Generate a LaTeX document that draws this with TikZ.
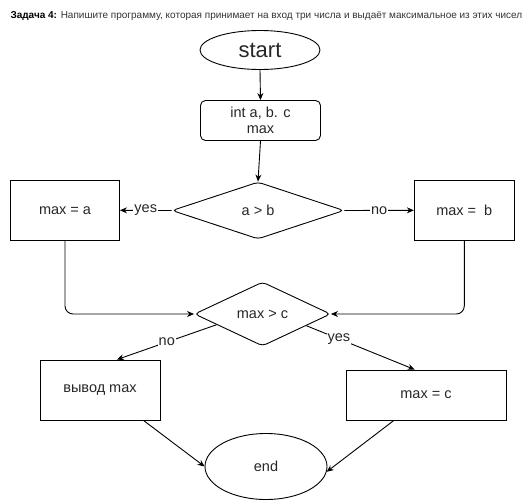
\documentclass[tikz,border=0pt]{standalone}
\usepackage{fontspec}
\setmainfont{Liberation Sans}
\usetikzlibrary{shapes.geometric,arrows.meta,calc}

\begin{document}
\begin{tikzpicture}[x=1pt,y=-1pt,
  every node/.style={font=\fontsize{14.5}{17}\selectfont, text=black!85},
  flow/.style={draw=black, line width=0.9pt},
  proc/.style={flow, rectangle, inner sep=0pt},
  term/.style={flow, ellipse, inner sep=0pt},
  cond/.style={flow, diamond, inner sep=0pt, rounded corners=4pt},
  arr/.style={line width=0.9pt, -{Stealth[length=7pt,width=6pt]}},
  lbl/.style={fill=white, inner sep=1pt}
]
\useasboundingbox (0,0) rectangle (531,501);

% heading
\node[anchor=west, font=\fontsize{10}{12}\selectfont, text=black!80] (title) at (7,16)
  {{\bfseries\color{black}Задача 4:} Напишите программу, которая принимает на вход три числа и выдаёт максимальное из этих чисел};

% blocks
\node[term, minimum width=120, minimum height=39, font=\fontsize{22}{26}\selectfont] (start) at (260,50) {start};
\node[proc, rounded corners=5pt, minimum width=120, minimum height=40, align=center,
      font=\fontsize{14.5}{15.5}\selectfont] (init) at (260.5,120.5) {int a, b. c\\max};
\node[cond, minimum width=172, minimum height=57] (d1) at (258,210.5) {a > b};
\node[proc, minimum width=109, minimum height=60] (ma) at (65,210.3) {max = a};
\node[proc, minimum width=100, minimum height=60] (mb) at (464.3,210.3) {max = \ b};
\node[cond, minimum width=136, minimum height=64] (d2) at (262.5,314) {max > c};
\node[proc, minimum width=120, minimum height=60] (out) at (100,390) {вывод max};
\node[proc, minimum width=160, minimum height=50] (mc) at (426,395) {max = c};
\node[term, minimum width=122, minimum height=66] (fin) at (266,466.5) {end};

% connectors
\draw[arr] (start.south) -- (init.north);
\draw[arr] (init.south) -- (d1.north);
\draw[arr] (d1.west) -- node[lbl] {yes} (ma.east);
\draw[arr] (d1.east) -- node[lbl] {no} (mb.west);
\draw[arr, rounded corners=8pt] (ma.south) |- (d2.west);
\draw[arr, rounded corners=8pt] (mb.south) |- (d2.east);
\draw[arr] ($(d2.west)!0.33!(d2.south)$) -- node[lbl] {no}
  ($(out.north west)!0.64!(out.north east)$);
\draw[arr] ($(d2.south)!0.64!(d2.east)$) -- node[lbl, pos=0.3] {yes}
  ($(mc.north west)!0.43!(mc.north east)$);
\draw[arr] ($(out.south west)!0.86!(out.south east)$) -- (fin.west);
\draw[arr] ($(mc.south west)!0.3!(mc.south east)$) -- (fin.355);
\end{tikzpicture}
\end{document}
